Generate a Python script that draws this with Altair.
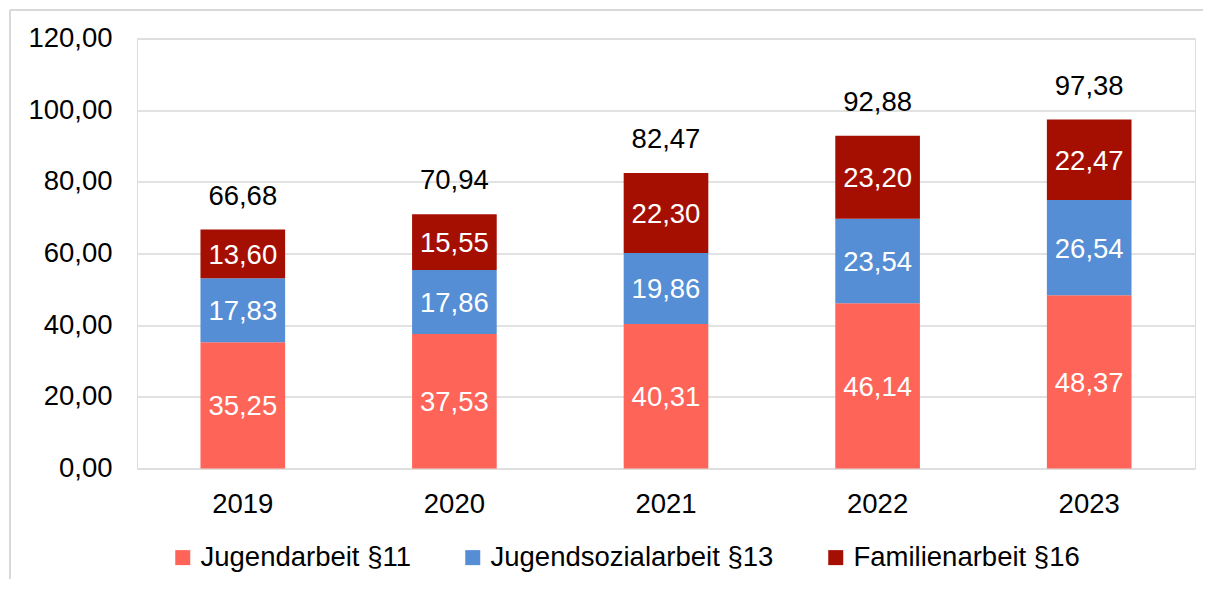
import altair as alt
import pandas as pd

years = ["2019", "2020", "2021", "2022", "2023"]
series_names = ["Jugendarbeit §11", "Jugendsozialarbeit §13", "Familienarbeit §16"]
jugendarbeit = [35.25, 37.53, 40.31, 46.14, 48.37]
jugendsozialarbeit = [17.83, 17.86, 19.86, 23.54, 26.54]
familienarbeit = [13.60, 15.55, 22.30, 23.20, 22.47]
totals = [66.68, 70.94, 82.47, 92.88, 97.38]
colors = ["#FF6459", "#558ED5", "#A50F02"]
y_ticks = [0, 20, 40, 60, 80, 100, 120]

rows = []
for i, y in enumerate(years):
    lo = 0.0
    for k, (name, vals) in enumerate(zip(series_names, [jugendarbeit, jugendsozialarbeit, familienarbeit])):
        v = vals[i]
        rows.append({"Jahr": y, "Bereich": name, "Wert": v, "ord": k,
                     "lo": lo, "hi": lo + v, "mid": lo + v / 2})
        lo += v
df = pd.DataFrame(rows)
tot = pd.DataFrame({"Jahr": years, "Summe": totals})

FONT = "Liberation Sans"
FS = 27.5

x_enc = alt.X("Jahr:N", sort=years,
              scale=alt.Scale(paddingInner=0.6, paddingOuter=0.3),
              axis=alt.Axis(title=None, labelAngle=0, domain=False, ticks=False,
                            labelPadding=22, labelFontSize=FS, labelFont=FONT,
                            labelColor="black"))
y_scale = alt.Scale(domain=[0, 120], nice=False)
y_axis = alt.Axis(title=None, values=y_ticks, domain=False, ticks=False,
                  labelPadding=25, labelFontSize=FS, labelFont=FONT, labelColor="black",
                  labelExpr="replace(format(datum.value, '.2f'), '.', ',')",
                  gridColor="#D9D9D9", gridWidth=1.5)

bars = alt.Chart(df).mark_bar(stroke=None).encode(
    x=x_enc,
    y=alt.Y("lo:Q", scale=y_scale, axis=y_axis),
    y2="hi:Q",
    color=alt.Color("Bereich:N",
                    scale=alt.Scale(domain=series_names, range=colors),
                    legend=alt.Legend(title=None, orient="none", direction="horizontal",
                                      legendX=32, legendY=505, padding=0,
                                      symbolType="square", symbolSize=225,
                                      symbolStrokeWidth=0, labelOffset=4,
                                      columnPadding=48, labelLimit=0,
                                      labelFontSize=FS, labelFont=FONT,
                                      labelColor="black")),
)

seg_text = alt.Chart(df).transform_calculate(
    lbl="replace(format(datum.Wert, '.2f'), '.', ',')"
).mark_text(font=FONT, fontSize=FS, color="white", baseline="alphabetic", dy=10).encode(
    x=alt.X("Jahr:N", sort=years),
    y=alt.Y("mid:Q", scale=y_scale),
    text="lbl:N",
)

tot_text = alt.Chart(tot).transform_calculate(
    lbl="replace(format(datum.Summe, '.2f'), '.', ',')"
).mark_text(font=FONT, fontSize=FS, color="black", baseline="alphabetic", dy=-25).encode(
    x=alt.X("Jahr:N", sort=years),
    y=alt.Y("Summe:Q", scale=y_scale),
    text="lbl:N",
)

frame_left = alt.Chart(tot).mark_rule(color="#D9D9D9", strokeWidth=2).encode(
    x=alt.value(-127), y=alt.value(-28.5), y2=alt.value(700))
frame_top = alt.Chart(tot).mark_rule(color="#D9D9D9", strokeWidth=2).encode(
    x=alt.value(-127), x2=alt.value(1200), y=alt.value(-28.5))

chart = alt.layer(frame_left, frame_top, bars, seg_text, tot_text).properties(
    width=1058, height=430,
    autosize=alt.AutoSizeParams(type="none"),
    padding={"left": 129, "top": 30.5, "right": 8, "bottom": 110},
).configure_view(stroke=None).configure(background="white")

chart.save("out.html", embed_options={"renderer": "svg", "actions": False})
